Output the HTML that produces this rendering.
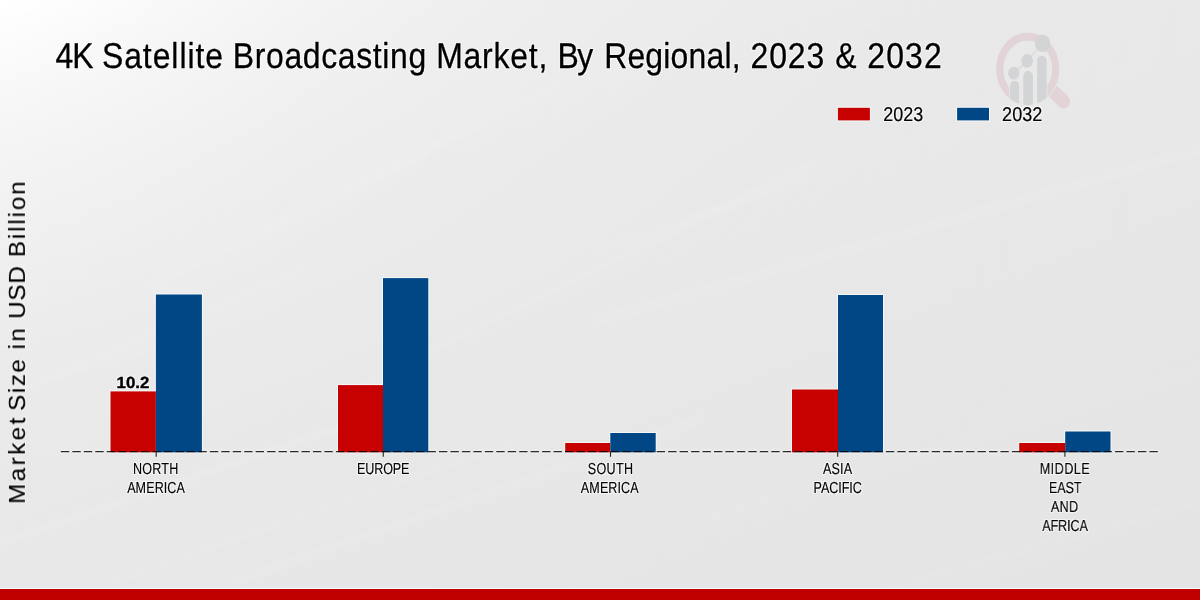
<!DOCTYPE html>
<html><head><meta charset="utf-8"><title>4K Satellite Broadcasting Market, By Regional, 2023 &amp; 2032</title>
<style>
html,body{margin:0;padding:0;width:1200px;height:600px;overflow:hidden;background:#e8e8e8}
svg{position:absolute;left:0;top:0;display:block;will-change:transform}
text{font-family:"Liberation Sans", sans-serif;fill:#000;white-space:pre;text-rendering:geometricPrecision}
</style></head><body>
<svg width="1200" height="600" viewBox="0 0 1200 600">
<defs>
<linearGradient id="bg" gradientUnits="userSpaceOnUse" x1="0" y1="0" x2="371.4" y2="928.5">
<stop offset="0" stop-color="rgb(236,236,236)"/><stop offset="1" stop-color="rgb(227.9,227.9,227.9)"/>
</linearGradient>
<linearGradient id="gx" gradientUnits="userSpaceOnUse" x1="0" y1="0" x2="1200" y2="0"><stop offset="0.0000" stop-color="#fff" stop-opacity="1.000"/><stop offset="0.0417" stop-color="#fff" stop-opacity="0.905"/><stop offset="0.0833" stop-color="#fff" stop-opacity="0.812"/><stop offset="0.1250" stop-color="#fff" stop-opacity="0.717"/><stop offset="0.1667" stop-color="#fff" stop-opacity="0.623"/><stop offset="0.2083" stop-color="#fff" stop-opacity="0.530"/><stop offset="0.2500" stop-color="#fff" stop-opacity="0.438"/><stop offset="0.2917" stop-color="#fff" stop-opacity="0.375"/><stop offset="0.3333" stop-color="#fff" stop-opacity="0.320"/><stop offset="0.3750" stop-color="#fff" stop-opacity="0.270"/><stop offset="0.4167" stop-color="#fff" stop-opacity="0.225"/><stop offset="0.4583" stop-color="#fff" stop-opacity="0.187"/><stop offset="0.5000" stop-color="#fff" stop-opacity="0.154"/><stop offset="0.5625" stop-color="#fff" stop-opacity="0.115"/><stop offset="0.6250" stop-color="#fff" stop-opacity="0.085"/><stop offset="0.6875" stop-color="#fff" stop-opacity="0.061"/><stop offset="0.7500" stop-color="#fff" stop-opacity="0.043"/><stop offset="0.8125" stop-color="#fff" stop-opacity="0.027"/><stop offset="0.8750" stop-color="#fff" stop-opacity="0.015"/><stop offset="0.9375" stop-color="#fff" stop-opacity="0.006"/><stop offset="1.0000" stop-color="#fff" stop-opacity="0.000"/></linearGradient>
<linearGradient id="gy" gradientUnits="userSpaceOnUse" x1="0" y1="0" x2="0" y2="600"><stop offset="0.0000" stop-color="#fff" stop-opacity="1.000"/><stop offset="0.0417" stop-color="#fff" stop-opacity="0.895"/><stop offset="0.0833" stop-color="#fff" stop-opacity="0.800"/><stop offset="0.1250" stop-color="#fff" stop-opacity="0.712"/><stop offset="0.1667" stop-color="#fff" stop-opacity="0.630"/><stop offset="0.2083" stop-color="#fff" stop-opacity="0.548"/><stop offset="0.2500" stop-color="#fff" stop-opacity="0.470"/><stop offset="0.2917" stop-color="#fff" stop-opacity="0.415"/><stop offset="0.3333" stop-color="#fff" stop-opacity="0.365"/><stop offset="0.3750" stop-color="#fff" stop-opacity="0.320"/><stop offset="0.4167" stop-color="#fff" stop-opacity="0.280"/><stop offset="0.4583" stop-color="#fff" stop-opacity="0.236"/><stop offset="0.5000" stop-color="#fff" stop-opacity="0.195"/><stop offset="0.5417" stop-color="#fff" stop-opacity="0.158"/><stop offset="0.5833" stop-color="#fff" stop-opacity="0.125"/><stop offset="0.6667" stop-color="#fff" stop-opacity="0.080"/><stop offset="0.7500" stop-color="#fff" stop-opacity="0.050"/><stop offset="0.8333" stop-color="#fff" stop-opacity="0.030"/><stop offset="0.9333" stop-color="#fff" stop-opacity="0.014"/><stop offset="1.0000" stop-color="#fff" stop-opacity="0.008"/></linearGradient>
<mask id="gm" maskUnits="userSpaceOnUse" x="0" y="0" width="1200" height="600" style="mask-type:alpha"><rect x="0" y="0" width="1200" height="600" fill="url(#gy)"/></mask>
<clipPath id="lc"><circle cx="0" cy="0" r="31.5"/></clipPath>
<mask id="hm" maskUnits="userSpaceOnUse" x="-60" y="-60" width="120" height="120"><rect x="-60" y="-60" width="120" height="120" fill="#fff"/><circle cx="0" cy="0" r="32.4" fill="#000"/></mask>
<mask id="rm" maskUnits="userSpaceOnUse" x="-60" y="-60" width="120" height="120"><rect x="-60" y="-60" width="120" height="120" fill="#fff"/><rect x="-18.4" y="0" width="38.2" height="60" fill="#000"/></mask>
<clipPath id="nobars"><rect x="60" y="440" width="49.5" height="20"/><rect x="202.9" y="440" width="134.1" height="20"/><rect x="429.3" y="440" width="134.9" height="20"/><rect x="656.7" y="440" width="134.3" height="20"/><rect x="884" y="440" width="134.2" height="20"/><rect x="1111.5" y="440" width="48.5" height="20"/></clipPath>
<clipPath id="above"><rect x="0" y="0" width="1200" height="451.1"/></clipPath>
<filter id="soft" filterUnits="userSpaceOnUse" x="-50" y="-50" width="1300" height="700"><feGaussianBlur stdDeviation="2.5"/></filter>
<filter id="halo" x="-5%" y="-5%" width="110%" height="110%" color-interpolation-filters="sRGB"><feMorphology in="SourceAlpha" operator="dilate" radius="0.9" result="d"/><feGaussianBlur in="d" stdDeviation="0.45" result="b"/><feFlood flood-color="#fbfdfd" flood-opacity="0.7" result="f"/><feComposite in="f" in2="b" operator="in" result="h"/><feMerge><feMergeNode in="h"/><feMergeNode in="SourceGraphic"/></feMerge></filter>
</defs>
<!-- background -->
<rect x="0" y="0" width="1200" height="600" fill="url(#bg)"/>
<rect x="0" y="0" width="1200" height="600" fill="url(#gx)" mask="url(#gm)"/>
<g stroke="#fff" stroke-linecap="round" filter="url(#soft)" opacity="0.75"><line x1="0" y1="543" x2="420" y2="400" stroke-opacity="0.07" stroke-width="9"/><line x1="0" y1="543" x2="420" y2="400" stroke-opacity="0.07" stroke-width="4.0"/><line x1="60" y1="600" x2="520" y2="440" stroke-opacity="0.06" stroke-width="7"/><line x1="60" y1="600" x2="520" y2="440" stroke-opacity="0.06" stroke-width="3.1"/><line x1="180" y1="600" x2="700" y2="420" stroke-opacity="0.06" stroke-width="10"/><line x1="180" y1="600" x2="700" y2="420" stroke-opacity="0.06" stroke-width="4.5"/><line x1="150" y1="285" x2="560" y2="85" stroke-opacity="0.06" stroke-width="14"/><line x1="150" y1="285" x2="560" y2="85" stroke-opacity="0.06" stroke-width="6.3"/><line x1="330" y1="400" x2="820" y2="160" stroke-opacity="0.05" stroke-width="12"/><line x1="330" y1="400" x2="820" y2="160" stroke-opacity="0.05" stroke-width="5.4"/><line x1="600" y1="320" x2="1200" y2="150" stroke-opacity="0.06" stroke-width="12"/><line x1="600" y1="320" x2="1200" y2="150" stroke-opacity="0.06" stroke-width="5.4"/><line x1="600" y1="250" x2="1000" y2="113" stroke-opacity="0.05" stroke-width="9"/><line x1="600" y1="250" x2="1000" y2="113" stroke-opacity="0.05" stroke-width="4.0"/><line x1="700" y1="520" x2="1200" y2="370" stroke-opacity="0.05" stroke-width="10"/><line x1="700" y1="520" x2="1200" y2="370" stroke-opacity="0.05" stroke-width="4.5"/><line x1="0" y1="400" x2="300" y2="270" stroke-opacity="0.05" stroke-width="8"/><line x1="0" y1="400" x2="300" y2="270" stroke-opacity="0.05" stroke-width="3.6"/><line x1="850" y1="600" x2="1200" y2="500" stroke-opacity="0.05" stroke-width="9"/><line x1="850" y1="600" x2="1200" y2="500" stroke-opacity="0.05" stroke-width="4.0"/></g>
<!-- watermark logo -->
<g transform="translate(1027.7 68.9) scale(1 1.15)">
<circle cx="0" cy="0" r="27.95" fill="none" stroke="#e1d3d6" stroke-width="7.1" mask="url(#rm)"/>
<line x1="20" y1="15.4" x2="36" y2="28.2" stroke="#e1d3d6" stroke-width="12.6" stroke-linecap="round" mask="url(#hm)"/>
<g fill="#d3d4d6" clip-path="url(#lc)">
<path d="M-17.7 40 V14.9 a4.6 4.6 0 0 1 9.2 0 V40 Z"/>
<path d="M-4.4 40 V6.45 a4.8 4.8 0 0 1 9.6 0 V40 Z"/>
<path d="M9.4 40 V-6.7 a4.8 4.8 0 0 1 9.6 0 V40 Z"/>
</g>
<g fill="#d3d4d6"><circle cx="-13.95" cy="3.7" r="5.6"/><circle cx="-0.6" cy="-7.0" r="5.9"/><circle cx="14.8" cy="-22.3" r="7.7"/></g>
<path d="M-13.95 3.7 L-0.6 -7 L14.8 -22.3" stroke="#d3d4d6" stroke-width="0.9" fill="none"/>
</g>
<!-- bars -->
<g fill="none" stroke="#fafcfc" stroke-opacity="0.75" stroke-width="2" clip-path="url(#above)"><rect x="110.5" y="391.4" width="45.40" height="60.90"/><rect x="155.9" y="294.5" width="46.00" height="157.80"/><rect x="338" y="385.1" width="45.00" height="67.20"/><rect x="383" y="278.1" width="45.30" height="174.20"/><rect x="565.2" y="443" width="45.10" height="9.30"/><rect x="610.3" y="433" width="45.40" height="19.30"/><rect x="792" y="389.5" width="46.00" height="62.80"/><rect x="838" y="295" width="45.00" height="157.30"/><rect x="1019.2" y="443" width="46.00" height="9.30"/><rect x="1065.2" y="431.5" width="45.30" height="20.80"/><rect x="837.9" y="107.8" width="32" height="12.6"/><rect x="957.1" y="107.8" width="31.9" height="12.6"/></g>
<rect x="110.5" y="391.4" width="45.40" height="60.90" fill="#c70000"/><rect x="155.9" y="294.5" width="46.00" height="157.80" fill="#014785"/><rect x="338" y="385.1" width="45.00" height="67.20" fill="#c70000"/><rect x="383" y="278.1" width="45.30" height="174.20" fill="#014785"/><rect x="565.2" y="443" width="45.10" height="9.30" fill="#c70000"/><rect x="610.3" y="433" width="45.40" height="19.30" fill="#014785"/><rect x="792" y="389.5" width="46.00" height="62.80" fill="#c70000"/><rect x="838" y="295" width="45.00" height="157.30" fill="#014785"/><rect x="1019.2" y="443" width="46.00" height="9.30" fill="#c70000"/><rect x="1065.2" y="431.5" width="45.30" height="20.80" fill="#014785"/>
<!-- axis -->
<g stroke-dasharray="8.333 3.125"><line x1="60.9" x2="1158.4" y1="453.0" y2="453.0" stroke="#fbfdfd" stroke-opacity="0.55" stroke-width="1.1"/><line x1="60.9" x2="1158.4" y1="450.2" y2="450.2" stroke="#fbfdfd" stroke-opacity="0.45" stroke-width="1" clip-path="url(#nobars)"/><line x1="60.9" x2="1158.4" y1="451.6" y2="451.6" stroke="#000" stroke-opacity="0.82" stroke-width="1.15"/></g>
<g stroke="#222" stroke-width="1.1"><line x1="156.2" x2="156.2" y1="451.7" y2="456.8"/><line x1="383.25" x2="383.25" y1="451.7" y2="456.8"/><line x1="610.5" x2="610.5" y1="451.7" y2="456.8"/><line x1="837.7" x2="837.7" y1="451.7" y2="456.8"/><line x1="1064.9" x2="1064.9" y1="451.7" y2="456.8"/></g>
<!-- legend swatches -->
<rect x="837.9" y="107.8" width="32" height="12.6" fill="#c70000"/>
<rect x="957.1" y="107.8" width="31.9" height="12.6" fill="#014785"/>
<!-- text -->
<g filter="url(#halo)">
<text transform="scale(0.89 1)" font-size="35.9" font-weight="normal" stroke="#000" stroke-width="0.3" stroke-linejoin="round"><tspan x="62.32" y="68.30" letter-spacing="-1.227">4K </tspan><tspan x="114.47" y="68.30" letter-spacing="1.060">Satellite </tspan><tspan x="261.64" y="68.30" letter-spacing="0.712">Broadcasting </tspan><tspan x="490.07" y="68.30" letter-spacing="0.884">Market, </tspan><tspan x="626.36" y="68.30" letter-spacing="-1.634">By </tspan><tspan x="678.84" y="68.30" letter-spacing="0.216">Regional, </tspan><tspan x="843.34" y="68.30" letter-spacing="0.992">2023 </tspan><tspan x="938.52" y="68.30" letter-spacing="0.000">&amp; </tspan><tspan x="974.47" y="68.30" letter-spacing="1.300">2032</tspan></text>
<text transform="translate(883.19 121.25) scale(0.8964 1)" font-size="20.05" font-weight="normal" stroke="#000" stroke-width="0.2" stroke-linejoin="round">2023</text>
<text transform="translate(1002.09 121.25) scale(0.9016 1)" font-size="20.05" font-weight="normal" stroke="#000" stroke-width="0.2" stroke-linejoin="round">2032</text>
<text transform="translate(116.57 388.30) scale(1.0415 1)" font-size="16.18" font-weight="bold" stroke="#000" stroke-width="0.4" stroke-linejoin="round">10.2</text>
<text transform="scale(0.79 1)" font-size="15.92" font-weight="normal" stroke="#000" stroke-width="0.15" stroke-linejoin="round"><tspan x="168.45" y="474.30" letter-spacing="0.228">NORTH </tspan><tspan x="160.96" y="492.75" letter-spacing="0.107">AMERICA</tspan></text>
<text transform="scale(0.79 1)" font-size="15.92" font-weight="normal" stroke="#000" stroke-width="0.15" stroke-linejoin="round"><tspan x="451.99" y="474.30" letter-spacing="-0.169">EUROPE</tspan></text>
<text transform="scale(0.79 1)" font-size="15.92" font-weight="normal" stroke="#000" stroke-width="0.15" stroke-linejoin="round"><tspan x="744.01" y="474.30" letter-spacing="0.386">SOUTH </tspan><tspan x="735.26" y="492.75" letter-spacing="0.117">AMERICA</tspan></text>
<text transform="scale(0.79 1)" font-size="15.92" font-weight="normal" stroke="#000" stroke-width="0.15" stroke-linejoin="round"><tspan x="1041.85" y="474.30" letter-spacing="0.187">ASIA </tspan><tspan x="1029.84" y="492.75" letter-spacing="-0.068">PACIFIC</tspan></text>
<text transform="scale(0.79 1)" font-size="15.92" font-weight="normal" stroke="#000" stroke-width="0.15" stroke-linejoin="round"><tspan x="1316.29" y="474.30" letter-spacing="0.573">MIDDLE </tspan><tspan x="1327.69" y="492.75" letter-spacing="-0.113">EAST </tspan><tspan x="1330.20" y="511.75" letter-spacing="0.449">AND </tspan><tspan x="1319.19" y="530.90" letter-spacing="-0.085">AFRICA</tspan></text>
<text transform="translate(24.90 0) rotate(-90) scale(1.04 1)" font-size="23.33" font-weight="normal" stroke="#000" stroke-width="0.15" stroke-linejoin="round"><tspan x="-484.62" letter-spacing="2.324">Market </tspan><tspan x="-395.02" letter-spacing="1.450">Size </tspan><tspan x="-336.04" letter-spacing="2.388">in </tspan><tspan x="-306.68" letter-spacing="0.713">USD </tspan><tspan x="-247.31" letter-spacing="1.786">Billion</tspan></text>
</g>
<!-- footer band -->
<rect x="0" y="588" width="1200" height="1.2" fill="#f2ffff"/>
<rect x="0" y="589" width="1200" height="11" fill="#c00000"/>
</svg>
</body></html>
